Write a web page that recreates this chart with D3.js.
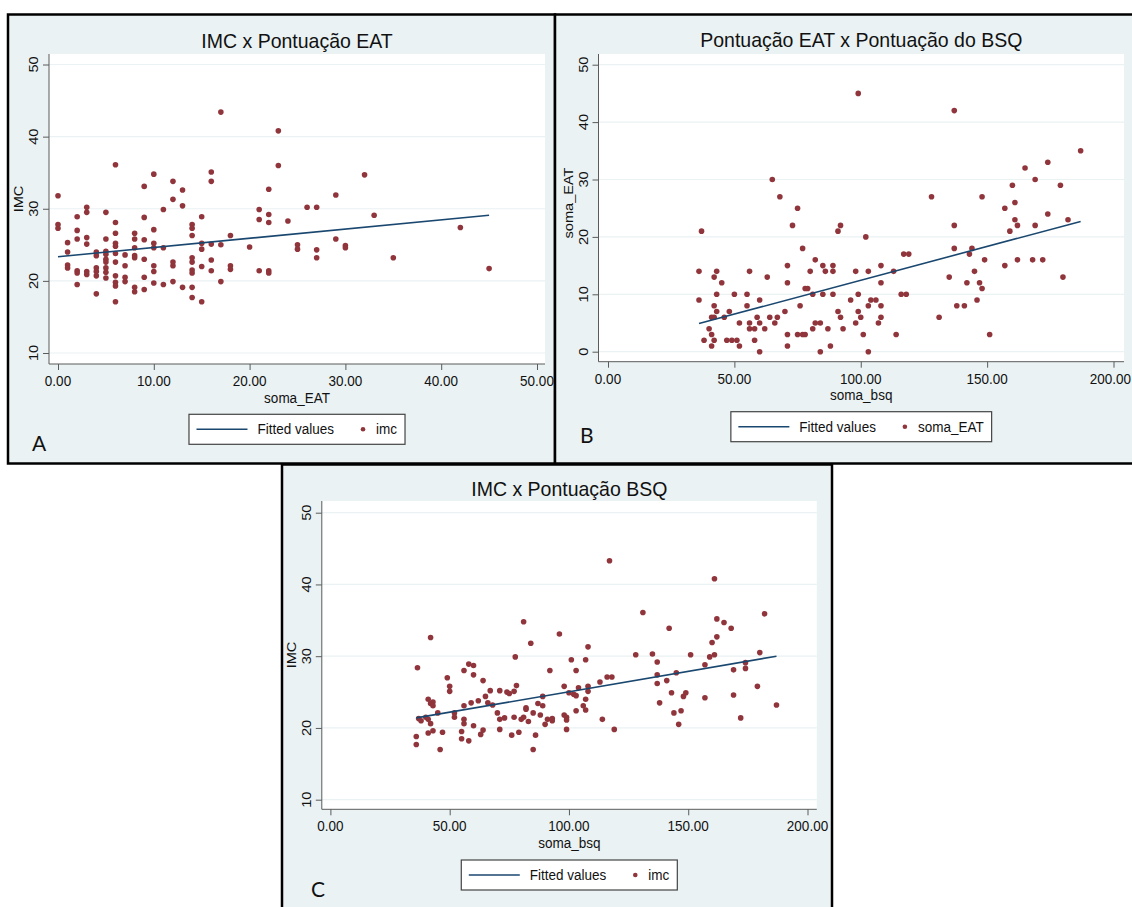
<!DOCTYPE html>
<html>
<head>
<meta charset="utf-8">
<script src="https://cdn.jsdelivr.net/npm/d3@7"></script>
<style>
  body { margin: 0; background: #fff; }
  text { font-family: "Liberation Sans", Arial, Helvetica, sans-serif; fill: #111; }
</style>
</head>
<body>
<script>
// ---- data ----
const titles = ["IMC x Pontuação EAT", "Pontuação EAT x Pontuação do BSQ", "IMC x Pontuação BSQ"];
const xLabels = ["soma_EAT", "soma_bsq", "soma_bsq"];
const yLabels = ["IMC", "soma_EAT", "IMC"];
const legendLabels = [["Fitted values", "imc"], ["Fitted values", "soma_EAT"], ["Fitted values", "imc"]];
const panelLetters = ["A", "B", "C"];

const ticksEat = [0, 10, 20, 30, 40, 50];
const ticksBsq = [0, 50, 100, 150, 200];
const ticksImc = [10, 20, 30, 40, 50];
const ticksEatY = [0, 10, 20, 30, 40, 50];

// A: soma_EAT (x) vs imc (y)
const imcVsEat = [
  [0,31.8],[0,27.8],[0,27.3],
  [1,25.3],[1,24.0],[1,22.2],[1,21.8],
  [2,28.9],[2,27.0],[2,25.8],[2,21.4],[2,21.1],[2,19.5],
  [3,30.2],[3,29.5],[3,26.0],[3,25.1],[3,21.3],[3,20.9],
  [4,24.0],[4,23.5],[4,21.8],[4,21.3],[4,20.7],[4,18.2],
  [5,29.5],[5,25.8],[5,24.1],[5,23.7],[5,23.0],[5,22.6],[5,21.8],[5,21.2],[5,20.4],
  [6,36.1],[6,28.1],[6,26.6],[6,25.2],[6,24.8],[6,23.8],[6,22.6],[6,20.7],[6,19.8],[6,19.3],[6,17.1],
  [7,23.6],[7,22.1],[7,20.5],[7,19.9],
  [8,26.6],[8,25.8],[8,24.6],[8,23.5],[8,23.2],[8,19.1],[8,18.5],
  [9,33.1],[9,28.8],[9,25.7],[9,23.0],[9,20.5],[9,18.8],
  [10,34.8],[10,27.1],[10,25.2],[10,24.6],[10,22.1],[10,21.3],[10,19.7],
  [11,29.9],[11,24.6],[11,19.5],
  [12,33.8],[12,31.3],[12,22.6],[12,22.1],[12,19.9],
  [13,32.6],[13,30.4],[13,19.1],
  [14,27.8],[14,27.3],[14,26.3],[14,23.2],[14,22.6],[14,21.5],[14,21.1],[14,19.1],[14,17.7],
  [15,28.9],[15,25.2],[15,24.4],[15,22.0],[15,17.1],
  [16,35.1],[16,33.8],[16,25.1],[16,22.9],[16,21.4],
  [17,43.4],[17,25.0],[17,19.9],
  [18,26.3],[18,22.1],[18,21.6],
  [20,24.7],
  [21,29.9],[21,28.5],[21,21.4],
  [22,32.7],[22,29.2],[22,28.1],[22,21.4],[22,21.1],
  [23,40.8],[23,36.0],
  [24,28.3],
  [25,25.0],[25,24.4],
  [26,30.2],
  [27,30.2],[27,24.3],[27,23.2],
  [29,31.9],[29,25.8],
  [30,24.9],[30,24.6],
  [32,34.7],[33,29.1],[35,23.2],[42,27.4],[45,21.7]
];

// B: soma_bsq (x) vs soma_EAT (y)
const eatVsBsq = [
  [37,21],[65,30],[68,27],[75,25],[73,22],[91,21],[92,22],[99,45],[102,20],[128,27],[137,42],[137,22],
  [148,27],[157,25],[160,29],[161,26],[161,23],[162,22],[159,21],[165,32],[169,30],[169,22],[174,33],
  [174,24],[179,29],[182,23],[187,35],
  [36,14],[36,9],[38,2],[40,4],[41,3],[41,1],[41,6],[42,2],[42,6],[42,8],[42,13],[43,14],[43,7],[43,10],
  [45,12],[46,6],[47,2],[48,7],[49,2],[50,10],[51,2],[52,1],[52,5],[55,10],[55,8],[56,14],[56,5],[56,4],
  [58,4],[58,2],[59,6],[60,9],[60,5],[60,0],[62,4],[63,13],[64,6],[66,5],[67,6],[70,7],[71,15],[71,12],
  [71,3],[71,1],[75,3],[77,3],[78,3],[76,8],[77,18],[78,11],[79,11],[80,14],[81,10],[81,4],[82,16],[82,5],
  [84,5],[84,0],[85,15],[85,10],[86,14],[87,4],[88,1],[89,15],[89,14],[89,10],[91,7],[92,6],[93,4],[96,9],
  [98,14],[98,5],[99,10],[99,7],[100,6],[101,3],[103,0],[103,14],[103,8],[104,9],[106,9],[107,5],[108,15],
  [108,12],[108,8],[108,6],[113,14],[114,3],[116,10],[117,17],[119,17],[118,10],[131,6],[135,13],[137,18],
  [138,8],[141,8],[142,12],[143,17],[144,18],[145,14],[146,9],[147,12],[148,11],[149,16],[151,3],[157,15],
  [162,16],[168,16],[172,16],[180,13]
];

// C: soma_bsq (x) vs imc (y)
const imcVsBsq = [
  [36.5,28.4],[42,32.6],[49,27.0],[56,28.0],[58,28.9],[60,28.7],[60,27.4],[64,26.6],[77.5,29.9],[81,34.8],
  [84,31.8],[92,28.0],[96,33.1],[101,29.5],[103,28.0],[107,29.5],[108,31.3],[116,27.1],[118,27.1],[117,43.3],
  [128,30.2],[131,36.1],[135,30.3],[137,29.2],[137,27.4],[142,33.9],[145,27.7],[151,30.2],[157,28.8],
  [159,29.9],[160,31.9],[161,40.8],[161,30.2],[162,32.7],[162,35.2],[165,34.7],[168,33.9],[169,28.1],
  [174,29.1],[174,28.3],[180,30.5],[182,35.9],[141,26.6],
  [37,21.3],[38,21.0],[36,18.8],[36,17.7],[40,21.5],[41,21.2],[42,20.6],[41,24.0],[41,19.3],[42,23.4],
  [43,23.6],[43,23.1],[43,19.6],[45,22.1],[46,17.0],[47,19.4],[50,25.8],[50,25.1],[52,22.1],[52,21.5],
  [55,19.5],[55,18.5],[56,21.2],[56,20.6],[56,23.1],[58,18.2],[59,23.5],[60,20.3],[62,23.8],[63,19.1],
  [64,19.7],[65,24.4],[66,23.5],[67,25.2],[68,23.2],[70,22.1],[71,21.2],[71,25.2],[71,19.8],[73,21.4],
  [74,25.0],[75,24.8],[76,19.0],[77,21.5],[77,25.1],[78,25.9],[79,19.4],[80,21.2],[81,21.5],[82,22.8],
  [82,22.6],[83,20.9],[85,22.1],[85,17.0],[86,19.0],[87,23.4],[88,21.8],[89,23.1],[89,24.4],[90,20.5],
  [91,21.2],[93,21.0],[93,21.3],[98,25.8],[98,21.8],[99,21.5],[99,21.1],[99,19.8],[100,24.9],[102,24.7],
  [103,24.5],[103,22.4],[104,25.6],[106,23.1],[107,22.5],[107,24.0],[108,25.8],[108,25.1],[113,26.4],
  [114,21.2],[119,19.8],[137,26.2],[138,23.5],[143,24.9],[144,22.1],[146,20.5],[147,22.4],[148,24.4],
  [149,24.9],[157,24.2],[169,24.6],[172,21.4],[179,25.8],[187,23.2]
];

// fitted values (line end points)
const fitA = [[0, 23.35], [45, 29.1]];
const fitB = [[36, 4.9], [187, 22.7]];
const fitC = [[36, 21.4], [187, 30.0]];

// ---- layout ----
const W = 1132, H = 907;
const SY = 1.08;           // text in the picture is a bit taller than wide
const bg = "#eaf2f3", dotColor = "#90353b", lineColor = "#1a476f", axisColor = "#5b5b5b";

const panels = [
  { frame: [8, 14.5, 547, 449], plot: { l: 49, r: 545, t: 54, b: 364 },
    xr: [58, 537], yr: [353, 64.5], xd: [0, 50], yd: [10, 50],
    xt: ticksEat, yt: ticksImc, pts: imcVsEat, fit: fitA, titleY: 48.3, legY: 414.3, letter: [32, 451], ylabY: 199 },
  { frame: [555, 14.5, 600, 449], plot: { l: 598.5, r: 1124, t: 54, b: 361.7 },
    xr: [608, 1113.5], yr: [351.7, 64.7], xd: [0, 200], yd: [0, 50],
    xt: ticksBsq, yt: ticksEatY, pts: eatVsBsq, fit: fitB, titleY: 47.3, legY: 411.7, letter: [580, 443], ylabY: 203 },
  { frame: [282, 464.5, 550, 470], plot: { l: 321.8, r: 816.8, t: 501, b: 809.3 },
    xr: [330.4, 807.5], yr: [799.7, 512.7], xd: [0, 200], yd: [10, 50],
    xt: ticksBsq, yt: ticksImc, pts: imcVsBsq, fit: fitC, titleY: 496, legY: 860, letter: [311, 897], ylabY: 655 }
];

const svg = d3.select("body").append("svg")
  .attr("width", W)
  .attr("height", H);

// text helper: rotated text reads bottom to top
function label(g, str, x, y, size, opts = {}) {
  const tr = opts.rot
    ? `translate(${x},${y}) rotate(-90) scale(${SY},1)`
    : `translate(${x},${y}) scale(1,${SY})`;
  return g.append("text")
    .attr("transform", tr)
    .attr("text-anchor", opts.anchor || "middle")
    .style("font-size", size + "px")
    .text(str);
}

panels.forEach((p, i) => {
  const g = svg.append("g");
  const [fx, fy, fw, fh] = p.frame;
  const pl = p.plot;

  g.append("rect")
    .attr("x", fx).attr("y", fy).attr("width", fw).attr("height", fh)
    .attr("fill", bg)
    .attr("stroke", "#000")
    .attr("stroke-width", 2.5);

  g.append("rect")
    .attr("x", pl.l).attr("y", pl.t).attr("width", pl.r - pl.l).attr("height", pl.b - pl.t)
    .attr("fill", "#fff");

  const x = d3.scaleLinear().domain(p.xd).range(p.xr);
  const y = d3.scaleLinear().domain(p.yd).range(p.yr);

  // gridlines
  g.selectAll(".grid")
    .data(p.yt)
    .enter()
    .append("line")
    .attr("x1", pl.l).attr("x2", pl.r)
    .attr("y1", d => y(d)).attr("y2", d => y(d))
    .attr("stroke", bg)
    .attr("stroke-width", 1.2);

  // axes
  const xAxis = d3.axisBottom(x).tickValues(p.xt).tickSize(6).tickFormat(d3.format(".2f"));
  const gx = g.append("g").attr("transform", `translate(0,${pl.b})`).call(xAxis);
  gx.select(".domain").attr("d", `M${pl.l},0H${pl.r}`);
  gx.selectAll("path, line").attr("stroke", axisColor);
  gx.selectAll("text").remove();
  p.xt.forEach(t => {
    const lab = label(g, d3.format(".2f")(t), x(t), pl.b + 22, 13.5);
    // the last label of panel B sits on the picture's right edge
    const half = lab.node().getComputedTextLength() / 2;
    if (x(t) + half > W - 1) {
      lab.attr("transform", `translate(${W - 1 - half},${pl.b + 22}) scale(1,${SY})`);
    }
  });

  const yAxis = d3.axisLeft(y).tickValues(p.yt).tickSize(6);
  const gy = g.append("g").attr("transform", `translate(${pl.l},0)`).call(yAxis);
  gy.select(".domain").attr("d", `M0,${pl.t}V${pl.b}`);
  gy.selectAll("path, line").attr("stroke", axisColor);
  gy.selectAll("text").remove();
  p.yt.forEach(t => label(g, String(t), pl.l - 11, y(t), 13.5, { rot: true }));

  // titles
  const cx = (pl.l + pl.r) / 2;
  label(g, titles[i], cx, p.titleY, 19.5);
  label(g, xLabels[i], cx, pl.b + 38.5, 13.5);
  label(g, yLabels[i], pl.l - 26, p.ylabY, 13.5, { rot: true });

  // points
  g.append("g")
    .selectAll("circle")
    .data(p.pts)
    .enter()
    .append("circle")
    .attr("cx", d => x(d[0]))
    .attr("cy", d => y(d[1]))
    .attr("r", 2.8)
    .attr("fill", dotColor);

  // fitted line
  g.append("path")
    .datum(p.fit)
    .attr("d", d3.line().x(d => x(d[0])).y(d => y(d[1])))
    .attr("fill", "none")
    .attr("stroke", lineColor)
    .attr("stroke-width", 1.6);

  // legend
  const leg = g.append("g");
  const box = leg.append("rect");
  const ly = p.legY + 15;
  let lx = 7.5;
  const items = leg.append("g");
  items.append("line")
    .attr("x1", lx).attr("x2", lx + 51).attr("y1", ly).attr("y2", ly)
    .attr("stroke", lineColor).attr("stroke-width", 1.5);
  lx += 61;
  const t1 = label(items, legendLabels[i][0], lx, ly + 5, 13.5, { anchor: "start" });
  lx += t1.node().getComputedTextLength() + 29;
  items.append("circle").attr("cx", lx).attr("cy", ly).attr("r", 2.3).attr("fill", dotColor);
  lx += 13;
  const t2 = label(items, legendLabels[i][1], lx, ly + 5, 13.5, { anchor: "start" });
  lx += t2.node().getComputedTextLength() + 8;
  const left = cx - lx / 2;
  items.attr("transform", `translate(${left},0)`);
  box.attr("x", left).attr("y", p.legY).attr("width", lx).attr("height", 30)
    .attr("fill", "#fff").attr("stroke", "#444").attr("stroke-width", 1.2);

  // panel letter
  g.append("text")
    .attr("x", p.letter[0]).attr("y", p.letter[1])
    .style("font-family", "Lato, 'Open Sans', sans-serif")
    .style("font-size", "21px")
    .text(panelLetters[i]);
});
</script>
</body>
</html>
